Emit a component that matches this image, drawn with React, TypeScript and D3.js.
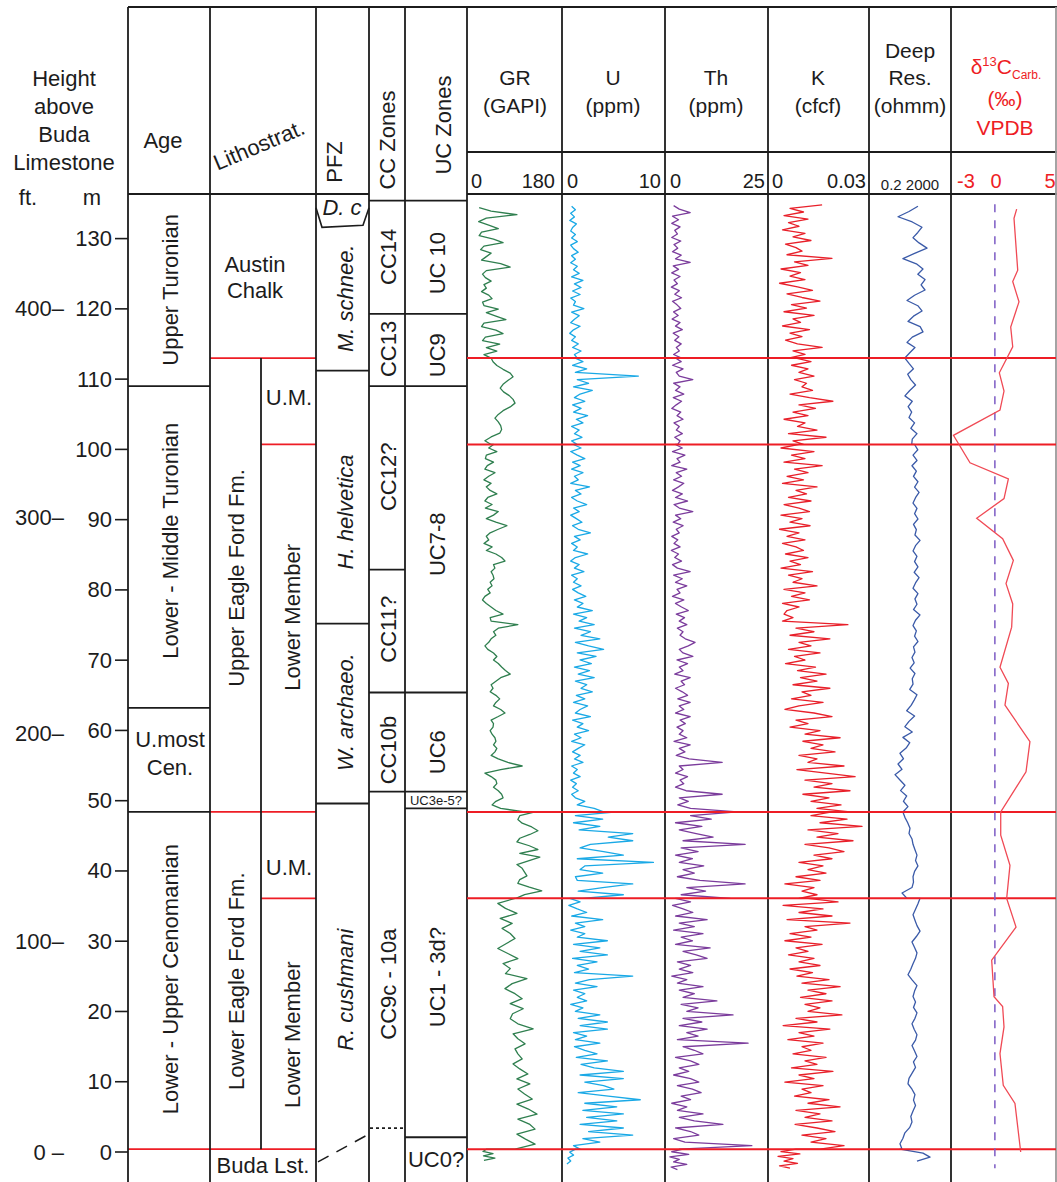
import React from "react";
import * as d3 from "d3";

const W = 1057;
const H = 1182;

// ---- depth axis (m above Buda Limestone) ----
const mTicks = [0, 10, 20, 30, 40, 50, 60, 70, 80, 90, 100, 110, 120, 130];
const ftLabels = ["0 –", "100–", "200–", "300–", "400–"];
const ftLabelDepth = [0, 29.9, 59.6, 90.3, 120.0];

// unit boundaries (m) where the logs are split, top to base
const logBreaks = [113, 100.7, 48.4, 36.1, 0.4];

// ---- stratigraphic columns ----
const ageBreaks = [109, 63.2, 48.4];
const pfzBreaks = [111.2, 75.2, 49.6];
const ccBreaks = [135.4, 119.3, 109, 82.9, 65.4, 51.3];
const ucBreaks = [135.4, 119.3, 109, 65.4, 51.3, 48.9, 2.1];
const ccDottedBase = 3.4;

const ageLabels = [
  { t: "Upper Turonian", d: 122.7 },
  { t: "Lower - Middle Turonian", d: 87.0 },
  { t: "Lower - Upper Cenomanian", d: 24.6 },
];
const formationLabels = [
  { t: "Upper Eagle Ford Fm.", d: 81.7 },
  { t: "Lower Eagle Ford Fm.", d: 24.3 },
];
const memberLabels = [
  { t: "Lower Member", d: 76.1 },
  { t: "Lower Member", d: 16.7 },
];
const umLabelDepth = [106.3, 39.4];
const pfzLabels = [
  { t: "M. schnee.", d: 121.5 },
  { t: "H. helvetica", d: 91.1 },
  { t: "W. archaeo.", d: 62.6 },
  { t: "R. cushmani", d: 23.1 },
];
const ccLabels = [
  { t: "CC14", d: 127.4 },
  { t: "CC13", d: 114.3 },
  { t: "CC12?", d: 96.1 },
  { t: "CC11?", d: 74.4 },
  { t: "CC10b", d: 57.2 },
  { t: "CC9c - 10a", d: 23.9 },
];
const ucLabels = [
  { t: "UC 10", d: 126.5 },
  { t: "UC9", d: 113.4 },
  { t: "UC7-8", d: 86.5 },
  { t: "UC6", d: 56.9 },
  { t: "UC1 - 3d?", d: 24.9 },
];

// ---- wireline logs, one array per unit (top -> base) ----
const grRange = [134.4, -1.2];
const grUnits = [
  [15, 40, 94, 30, 14, 35, 55, 20, 15, 45, 65, 25, 18, 40, 30, 20, 60, 80, 30, 22, 28, 40, 25, 30, 20, 35, 42, 22, 25, 55, 30, 50, 71, 25, 20, 50, 65, 28, 22, 58, 30, 52, 25, 40],
  [40, 44, 52, 65, 80, 86, 75, 65, 59, 66, 78, 86, 90, 80, 65, 55, 48, 55, 60, 62, 58, 40, 27, 40],
  [45, 35, 52, 30, 28, 45, 32, 27, 48, 35, 25, 40, 30, 38, 52, 33, 27, 42, 28, 55, 45, 30, 50, 73, 55, 38, 30, 35, 25, 42, 30, 50, 62, 69, 45, 48, 40, 44, 46, 38, 42, 33, 38, 27, 22, 30, 40, 50, 65, 38, 40, 96, 55, 45, 50, 40, 35, 27, 33, 45, 52, 45, 55, 62, 70, 80, 60, 50, 40, 44, 38, 50, 58, 50, 45, 60, 69, 55, 40, 45, 44, 38, 42, 48, 50, 45, 52, 48, 40, 55, 75, 105, 60, 27, 40, 50, 52, 45, 55, 62, 65, 50, 42, 60, 110],
  [132, 100, 96, 105, 125, 138, 121, 100, 94, 120, 138, 100, 142, 118, 94, 105, 110, 115, 100, 96, 120, 146, 110, 92],
  [90, 54, 70, 94, 59, 84, 63, 80, 90, 72, 54, 75, 96, 65, 80, 70, 115, 84, 69, 90, 105, 80, 107, 85, 80, 96, 128, 86, 96, 111, 90, 96, 105, 86, 100, 117, 94, 121, 96, 110, 126, 94, 118, 136, 96, 120, 132, 94, 112, 132, 90],
  [30, 23, 44, 24, 48, 25],
];

const uRange = [134.6, -1.7];
const uUnits = [
  [0.6, 1.0, 0.5, 0.9, 0.4, 1.1, 0.7, 0.5, 1.0, 0.6, 1.2, 0.5, 0.8, 1.3, 0.6, 1.0, 0.5, 1.2, 0.8, 1.4, 0.6, 1.8, 0.9, 1.6, 0.7, 1.5, 0.5, 1.0, 0.8, 1.9, 0.6, 1.4, 0.9, 0.5, 1.5, 0.8, 0.4, 1.0, 0.6, 1.3, 0.7, 1.6, 0.9, 1.2],
  [1.0, 1.8, 0.7, 2.2, 1.0, 7.7, 1.2, 2.4, 0.8, 2.8, 1.5, 0.9, 2.0, 0.7, 1.6, 0.8, 2.3, 1.1, 1.8, 0.6, 1.4, 0.9, 1.7, 0.6, 1.2],
  [0.8, 1.6, 0.5, 1.2, 2.0, 0.7, 1.5, 0.6, 1.8, 0.9, 1.3, 0.5, 2.5, 1.0, 1.6, 0.6, 1.2, 2.2, 0.8, 1.4, 0.5, 1.1, 1.7, 0.7, 1.3, 2.6, 0.9, 1.5, 0.6, 1.2, 0.8, 2.3, 1.0, 0.5, 1.4, 0.9, 1.9, 0.6, 1.2, 0.8, 1.6, 0.7, 1.3, 2.1, 0.9, 1.8, 1.2, 2.8, 0.8, 2.2, 1.4, 3.0, 0.9, 2.6, 1.6, 3.6, 1.0, 2.4, 4.0, 1.2, 3.2, 1.5, 2.7, 0.9, 2.5, 1.3, 3.0, 1.0, 2.2, 1.6, 2.8, 1.1, 2.0, 0.8, 2.3, 1.5, 1.0, 2.6, 0.7, 1.8, 1.2, 2.4, 0.9, 1.6, 0.6, 2.0, 1.3, 0.7, 1.5, 0.9, 1.8, 0.6, 1.2, 0.8, 1.5, 0.5, 1.1, 0.7, 1.3, 0.6, 1.0, 2.0, 1.2, 3.0, 4.0],
  [5.4, 1.0, 3.9, 0.8, 3.6, 1.4, 7.1, 4.5, 7.1, 2.6, 1.5, 4.0, 6.1, 1.2, 9.3, 2.0, 1.5, 3.9, 1.0, 1.2, 7.1, 3.9, 1.3, 6.1, 1.8],
  [0.4, 1.5, 0.3, 1.2, 2.2, 0.6, 3.9, 1.0, 2.0, 0.5, 2.0, 1.2, 4.4, 0.8, 3.6, 1.5, 4.4, 0.7, 3.3, 1.2, 2.4, 0.9, 7.1, 2.5, 1.0, 3.3, 0.8, 2.0, 1.2, 2.2, 0.5, 1.8, 1.0, 3.6, 1.3, 4.4, 1.5, 4.4, 0.8, 2.2, 1.0, 3.6, 0.9, 2.0, 3.3, 1.1, 4.4, 1.6, 3.0, 6.1, 1.5, 6.1, 2.0, 4.0, 5.1, 1.3, 4.5, 7.9, 2.0, 5.4, 1.8, 6.1, 2.2, 5.4, 1.5, 6.1, 2.4, 7.1, 1.8, 3.6, 0.8, 1.5],
  [1.0, 0.4, 0.8, 0.2, 0.5, 0.1],
];

const thRange = [134.7, -2.5];
const thUnits = [
  [1.5, 3.0, 5.9, 1.2, 2.8, 1.0, 3.2, 1.8, 2.5, 1.0, 3.4, 1.6, 2.6, 1.2, 3.5, 2.0, 5.9, 1.4, 2.8, 1.0, 3.2, 1.6, 2.5, 0.9, 3.0, 1.8, 3.6, 1.2, 2.4, 3.4, 1.5, 2.7, 1.1, 3.2, 2.0, 3.8, 1.4, 2.9, 1.8, 3.5, 2.2, 3.0, 1.5, 3.6],
  [2.0, 3.5, 1.2, 4.0, 2.2, 3.0, 6.6, 1.5, 3.2, 2.0, 4.2, 1.4, 3.6, 2.2, 1.0, 3.4, 2.4, 4.0, 1.6, 3.0, 2.2, 3.8, 1.8, 3.2, 2.6],
  [2.0, 3.8, 1.2, 4.5, 2.4, 3.2, 1.0, 5.0, 2.2, 3.6, 1.5, 4.2, 2.8, 1.2, 3.8, 2.0, 5.2, 1.6, 3.0, 6.6, 2.0, 3.4, 1.4, 4.0, 2.2, 3.0, 1.0, 2.6, 1.6, 3.2, 0.9, 2.8, 1.8, 3.6, 1.2, 2.5, 5.9, 1.5, 3.8, 2.0, 5.0, 2.4, 3.2, 1.2, 4.2, 2.0, 3.6, 5.4, 2.2, 4.4, 3.0, 5.0, 2.5, 4.0, 3.2, 4.6, 7.2, 5.4, 3.0, 4.0, 6.6, 2.4, 5.2, 3.0, 4.0, 1.8, 5.9, 3.5, 4.4, 2.0, 3.8, 5.2, 2.6, 5.9, 3.0, 4.2, 2.0, 5.9, 3.2, 4.6, 2.4, 4.0, 3.0, 5.0, 1.6, 5.9, 3.0, 4.5, 2.2, 5.6, 14.4, 3.0, 4.0, 2.0, 5.2, 3.2, 4.2, 2.0, 4.8, 14.4, 3.0, 5.4, 2.6, 6.0, 18.4],
  [18.4, 6.0, 11.5, 2.0, 9.0, 3.0, 7.5, 12.0, 4.0, 20.5, 3.5, 8.0, 2.0, 6.5, 3.0, 9.5, 4.0, 7.0, 2.5, 8.5, 20.5, 5.0, 10.0, 3.5, 16.5],
  [2.0, 6.0, 1.2, 4.0, 6.6, 2.0, 10.4, 3.0, 7.0, 1.5, 9.3, 3.5, 6.5, 2.0, 11.2, 4.0, 7.5, 10.4, 2.5, 6.0, 3.0, 6.6, 1.0, 5.0, 2.5, 9.3, 3.0, 7.0, 4.0, 13.0, 3.5, 8.0, 5.0, 17.3, 4.0, 9.0, 3.0, 10.4, 5.0, 8.0, 2.5, 21.3, 4.0, 7.0, 9.3, 2.0, 6.0, 8.2, 3.0, 5.5, 1.5, 6.0, 8.2, 2.5, 6.5, 8.8, 3.5, 6.0, 1.0, 5.0, 2.5, 9.3, 3.0, 7.0, 14.6, 2.0, 6.0, 8.2, 1.5, 4.5, 22.3, 3.0],
  [4.0, 1.0, 5.5, 0.5, 3.0, 1.5, 5.0, 0.8, 2.5],
];

// potassium in 10^-3 cfcf
const kRange = [134.8, -2.3];
const kUnits = [
  [16.7, 6.0, 10.5, 4.0, 12.0, 5.5, 9.0, 3.5, 11.0, 7.0, 13.0, 4.5, 8.0, 10.0, 5.0, 20.0, 7.5, 12.0, 3.0, 9.5, 6.0, 11.0, 2.5, 8.5, 13.5, 5.0, 10.0, 16.0, 6.5, 11.5, 4.0, 14.0, 7.0, 9.5, 3.5, 12.5, 6.0, 10.0, 4.5, 8.5, 16.7, 7.0, 11.0, 5.5],
  [8.0, 13.0, 6.5, 12.0, 9.0, 14.0, 7.5, 11.5, 10.0, 13.5, 6.0, 12.5, 20.3, 9.0, 14.5, 7.0, 12.0, 4.0, 11.0, 8.5, 15.0, 5.5, 18.0, 7.0, 10.5],
  [9.0, 3.0, 14.0, 6.5, 11.0, 4.0, 16.7, 7.5, 12.0, 5.0, 10.5, 3.5, 15.0, 8.0, 11.5, 5.5, 13.0, 4.0, 9.0, 12.5, 3.0, 10.0, 6.0, 12.7, 2.5, 9.0, 5.0, 11.0, 3.5, 8.0, 10.5, 4.5, 12.0, 6.0, 9.5, 3.0, 13.5, 5.5, 10.0, 7.0, 15.0, 4.0, 11.0, 6.5, 12.5, 3.5, 9.0, 5.0, 4.0, 7.0, 3.5, 25.3, 8.0, 14.0, 6.0, 19.3, 9.0, 13.0, 5.5, 16.0, 7.5, 11.0, 4.5, 14.5, 8.5, 18.0, 9.5, 15.0, 7.0, 19.3, 10.0, 13.0, 6.5, 17.0, 9.0, 4.3, 14.0, 20.0, 8.0, 12.0, 6.0, 16.0, 11.0, 22.7, 10.3, 17.0, 13.0, 21.0, 9.0, 15.0, 12.0, 24.0, 8.3, 18.0, 27.7, 11.0, 20.0, 14.0, 26.0, 10.3, 19.0, 13.0, 23.0, 15.0, 26.0],
  [20.0, 13.0, 25.0, 16.0, 30.0, 12.0, 22.0, 15.0, 27.0, 11.0, 19.0, 24.0, 14.0, 20.0, 9.0, 17.0, 12.0, 18.0, 8.0, 16.0, 4.3, 14.0, 10.0, 15.0, 9.0],
  [12.0, 22.0, 3.7, 17.0, 9.0, 20.0, 5.0, 26.0, 11.0, 15.0, 6.0, 13.0, 4.3, 16.7, 8.0, 12.0, 5.5, 14.0, 9.0, 16.0, 6.0, 13.5, 8.3, 19.0, 10.0, 22.7, 12.0, 18.0, 9.5, 20.0, 11.0, 16.0, 12.0, 23.3, 8.0, 15.0, 3.7, 19.3, 9.0, 14.0, 5.3, 17.0, 10.0, 13.0, 7.0, 18.0, 11.0, 15.0, 6.5, 20.3, 9.0, 14.0, 4.3, 17.0, 10.0, 13.0, 7.5, 19.0, 12.0, 22.7, 8.0, 16.0, 11.0, 20.0, 7.7, 15.0, 21.0, 10.0, 18.0, 13.0, 24.0, 16.0],
  [8.0, 3.0, 9.3, 2.0, 7.0, 4.0, 8.5, 2.5, 6.0],
];

const resRange = [134.6, -1.3];
const resUnits = [
  [61, 20, 5.1, 30, 101, 60, 33, 70, 188, 40, 9.4, 50, 114, 60, 147, 90, 147, 40, 15.6, 60, 101, 35, 17.6, 80, 114, 30, 15.6, 42, 22, 12],
  [12, 20, 35, 17, 25, 45, 22, 12, 30, 18, 28, 20, 40, 25, 54, 30, 28],
  [40, 60, 33, 54, 29, 50, 35, 61, 40, 70, 45, 33, 54, 40, 61, 35, 50, 42, 79, 45, 33, 54, 40, 61, 38, 70, 45, 33, 61, 42, 54, 35, 79, 45, 33, 50, 40, 61, 35, 42, 29, 38, 23, 42, 30, 33, 22, 54, 38, 26, 15, 40, 20, 12, 30, 9.4, 22, 14, 6.5, 10, 5.1, 8.4, 3.5, 6.5, 12, 7, 15, 10, 17.6, 9.4],
  [9.4, 12, 17, 22.7, 20, 29, 33, 42, 54, 45, 61, 40, 33, 35, 29, 8.4, 15.6],
  [79, 61, 45, 33, 42, 54, 79, 50, 29, 40, 54, 45, 33, 25, 17.6, 30, 54, 40, 33, 45, 35, 54, 42, 29, 38, 54, 45, 29, 40, 54, 35, 45, 30, 20, 17.6, 29, 42, 35, 45, 33, 25, 29, 22, 12, 9.4, 6.5, 8.4],
  [6.5, 114, 273, 54],
];

// carbon isotope samples
const c13Depth = [134.2, 132.9, 125.5, 123.9, 121.0, 117.4, 114.6, 110.9, 108.3, 105.6, 102.0, 98.1, 95.8, 93.0, 90.2, 87.3, 84.2, 80.9, 78.0, 74.7, 69.0, 66.7, 63.6, 58.4, 54.1, 48.4, 45.1, 40.8, 36.1, 32.0, 27.3, 22.1, 20.7, 17.8, 14.0, 9.5, 6.9, 0.0];
const c13Value = [2.05, 1.8, 2.15, 1.68, 2.27, 1.49, 1.68, 0.42, 0.86, 0.48, -3.9, -2.34, 1.27, 0.86, -1.71, 0.73, 1.74, 1.05, 1.68, 1.58, 0.48, 1.27, 0.95, 3.3, 2.93, 0.55, 0.55, 1.42, 1.11, 1.99, -0.3, -0.08, 0.73, 0.86, 0.48, 0.79, 1.89, 2.43];

// ---------------------------------------------------------------
const FONT = "'Liberation Sans', Arial, Helvetica, sans-serif";
const INK = "#1c1c1c";
const RED = "#ee1d25";

const y = d3.scaleLinear().domain([0, 130]).range([1152, 238.6]);

const xGR = d3.scaleLinear().domain([0, 180]).range([472, 558]);
const xU = d3.scaleLinear().domain([0, 10]).range([566, 660]);
const xTh = d3.scaleLinear().domain([0, 25]).range([668, 762]);
const xK = d3.scaleLinear().domain([0, 30]).range([772, 862]);
const xRes = d3.scaleLog().domain([0.2, 2000]).range([872, 946]);
const xC = d3.scaleLinear().domain([-3, 5]).range([963, 1048]);

const colX = [128, 210, 316, 369, 405, 467, 562, 665, 768, 869, 951, 1056];

type Pt = { depth: number; v: number };

function toSeries(units: number[][], range: number[]): Pt[] {
  const edges = [range[0], ...logBreaks, range[1]];
  const out: Pt[] = [];
  units.forEach((vals, k) => {
    const t = edges[k];
    const b = edges[k + 1];
    vals.forEach((v, i) => {
      out.push({ depth: t - (i * (t - b)) / (vals.length - 1), v });
    });
  });
  return out;
}

function logPath(units: number[][], range: number[], xs: (v: number) => number) {
  const line = d3
    .line<Pt>()
    .x((p) => xs(p.v))
    .y((p) => y(p.depth));
  return line(toSeries(units, range)) || "";
}

function VText(props: { x: number; y: number; children: React.ReactNode; italic?: boolean; size?: number }) {
  return (
    <text
      transform={`translate(${props.x},${props.y}) rotate(-90)`}
      textAnchor="middle"
      dominantBaseline="central"
      fontSize={props.size || 22}
      fontStyle={props.italic ? "italic" : "normal"}
    >
      {props.children}
    </text>
  );
}

function hline(d: number, x0: number, x1: number, color: string, key: string, w = 1.8) {
  return <line key={key} x1={x0} x2={x1} y1={y(d)} y2={y(d)} stroke={color} strokeWidth={w} />;
}

export default function App() {
  const c13Line = d3
    .line<number>()
    .x((_, i) => xC(c13Value[i]))
    .y((d) => y(d))(c13Depth) || "";

  const logHeaders = [
    { lines: ["GR", "(GAPI)"], cx: 515, lo: "0", hi: "180", x0: 471, x1: 555 },
    { lines: ["U", "(ppm)"], cx: 613, lo: "0", hi: "10", x0: 567, x1: 661 },
    { lines: ["Th", "(ppm)"], cx: 716, lo: "0", hi: "25", x0: 670, x1: 765 },
    { lines: ["K", "(cfcf)"], cx: 818, lo: "0", hi: "0.03", x0: 772, x1: 866 },
  ];

  return (
    <div style={{ position: "absolute", left: 0, top: 0, background: "#fff" }}>
      <svg width={W} height={H} viewBox={`0 0 ${W} ${H}`} fontFamily={FONT} fill={INK}>
        <rect width={W} height={H} fill="#fff" />

        {/* left header */}
        <g fontSize={22} textAnchor="middle">
          <text x={64} y={86}>Height</text>
          <text x={64} y={114}>above</text>
          <text x={64} y={142}>Buda</text>
          <text x={64} y={170}>Limestone</text>
          <text x={28} y={205}>ft.</text>
          <text x={92} y={205}>m</text>
          <text x={163} y={148}>Age</text>
          <text transform="translate(262,152) rotate(-23)">Lithostrat.</text>
        </g>
        <VText x={334} y={162}>PFZ</VText>
        <VText x={387} y={140}>CC Zones</VText>
        <VText x={443} y={125}>UC Zones</VText>

        {/* depth ticks */}
        <g fontSize={22} textAnchor="end">
          {mTicks.map((m) => (
            <g key={m}>
              <line x1={115} x2={128} y1={y(m)} y2={y(m)} stroke={INK} strokeWidth={1.6} />
              <text x={112} y={y(m)} dominantBaseline="central">{m}</text>
            </g>
          ))}
          {ftLabels.map((t, i) => (
            <text key={t} x={64} y={y(ftLabelDepth[i])} dominantBaseline="central">{t}</text>
          ))}
        </g>

        {/* log headers */}
        <g fontSize={21} textAnchor="middle">
          {logHeaders.map((h) => (
            <g key={h.cx}>
              <text x={h.cx} y={85}>{h.lines[0]}</text>
              <text x={h.cx} y={113}>{h.lines[1]}</text>
              <text x={h.x0} y={188} fontSize={20} textAnchor="start">{h.lo}</text>
              <text x={h.x1} y={188} fontSize={20} textAnchor="end">{h.hi}</text>
            </g>
          ))}
          <text x={910} y={58}>Deep</text>
          <text x={910} y={85}>Res.</text>
          <text x={910} y={113}>(ohmm)</text>
          <text x={910} y={190} fontSize={15}>0.2 2000</text>
          <g fill={RED}>
            <text x={1006} y={74}>
              <tspan>δ</tspan>
              <tspan fontSize={13} dy={-8}>13</tspan>
              <tspan fontSize={21} dy={8}>C</tspan>
              <tspan fontSize={12} dy={5}>Carb.</tspan>
            </text>
            <text x={1005} y={106}>(‰)</text>
            <text x={1005} y={135}>VPDB</text>
            <text x={966} y={188} fontSize={20}>-3</text>
            <text x={996} y={188} fontSize={20}>0</text>
            <text x={1050} y={188} fontSize={20}>5</text>
          </g>
        </g>

        {/* stratigraphic labels */}
        {ageLabels.map((l) => (
          <VText key={l.t} x={170} y={y(l.d)}>{l.t}</VText>
        ))}
        <g fontSize={22} textAnchor="middle">
          <text x={170} y={y(57.6)}>U.most</text>
          <text x={170} y={y(53.7)}>Cen.</text>
          <text x={255} y={y(125.2)}>Austin</text>
          <text x={255} y={y(121.5)}>Chalk</text>
          {umLabelDepth.map((d) => (
            <text key={d} x={289} y={y(d)}>U.M.</text>
          ))}
          <text x={263} y={y(-3.0)}>Buda Lst.</text>
          <text x={342} y={y(133.4)} fontStyle="italic">D. c</text>
          <text x={436} y={y(-2.1)}>UC0?</text>
          <text x={436} y={y(49.4)} fontSize={13}>UC3e-5?</text>
        </g>
        {formationLabels.map((l) => (
          <VText key={l.t} x={236} y={y(l.d)}>{l.t}</VText>
        ))}
        {memberLabels.map((l) => (
          <VText key={l.d} x={292} y={y(l.d)}>{l.t}</VText>
        ))}
        {pfzLabels.map((l) => (
          <VText key={l.t} x={345} y={y(l.d)} italic>{l.t}</VText>
        ))}
        {ccLabels.map((l) => (
          <VText key={l.t} x={388} y={y(l.d)}>{l.t}</VText>
        ))}
        {ucLabels.map((l) => (
          <VText key={l.t} x={437} y={y(l.d)}>{l.t}</VText>
        ))}

        {/* zone boundaries */}
        <g>
          {ageBreaks.map((d) => hline(d, 128, 210, INK, `a${d}`))}
          {pfzBreaks.map((d) => hline(d, 316, 369, INK, `p${d}`))}
          {ccBreaks.map((d) => hline(d, 369, 405, INK, `c${d}`))}
          {ucBreaks.map((d) => hline(d, 405, 467, INK, `u${d}`))}
          <line x1={370} x2={405} y1={y(ccDottedBase)} y2={y(ccDottedBase)} stroke={INK} strokeWidth={1.6} strokeDasharray="3 3" />
          <line x1={318} x2={367} y1={y(-1.4)} y2={y(2.4)} stroke={INK} strokeWidth={1.5} strokeDasharray="12 9" />
          <path d={`M316,${y(134.4)} L322,${y(131.6)} L363,${y(131.9)} L369,${y(134.4)}`} fill="none" stroke={INK} strokeWidth={1.6} />
          {/* red unit boundaries in lithostratigraphy */}
          {hline(0.4, 128, 316, RED, "r0")}
          {hline(113, 210, 316, RED, "r1")}
          {hline(100.7, 261, 316, RED, "r2")}
          {hline(48.4, 210, 316, RED, "r3")}
          {hline(36.1, 261, 316, RED, "r4")}
          <line x1={261} x2={261} y1={y(113)} y2={y(0.4)} stroke={INK} strokeWidth={1.8} />
        </g>

        {/* frame */}
        <g stroke={INK} strokeWidth={1.8}>
          <line x1={128} x2={1057} y1={7} y2={7} strokeWidth={2.2} />
          <line x1={128} x2={369} y1={194} y2={194} />
          <line x1={467} x2={1057} y1={194} y2={194} />
          <line x1={467} x2={1057} y1={152} y2={152} />
          {colX.map((x) => (
            <line key={x} x1={x} x2={x} y1={7} y2={H} stroke={x === 1056 ? "#9a9a9a" : INK} />
          ))}
        </g>

        {/* logs */}
        <g fill="none" strokeWidth={1.3} strokeLinejoin="round">
          <path d={logPath(grUnits, grRange, xGR)} stroke="#2f7f4f" />
          <path d={logPath(uUnits, uRange, xU)} stroke="#1aa9e6" />
          <path d={logPath(thUnits, thRange, xTh)} stroke="#7b3c9c" />
          <path d={logPath(kUnits, kRange, xK)} stroke="#e8202a" />
          <path d={logPath(resUnits, resRange, xRes)} stroke="#3a5aa8" />
        </g>
        {logBreaks.map((d) => hline(d, 467, 1056, RED, `lr${d}`, 2))}

        {/* carbon isotopes */}
        <line x1={xC(0)} x2={xC(0)} y1={y(134.9)} y2={y(-2.3)} stroke="#7d5cc4" strokeWidth={1.5} strokeDasharray="8 8" />
        <path d={c13Line} fill="none" stroke="#f04a55" strokeWidth={1.3} />
      </svg>
    </div>
  );
}
